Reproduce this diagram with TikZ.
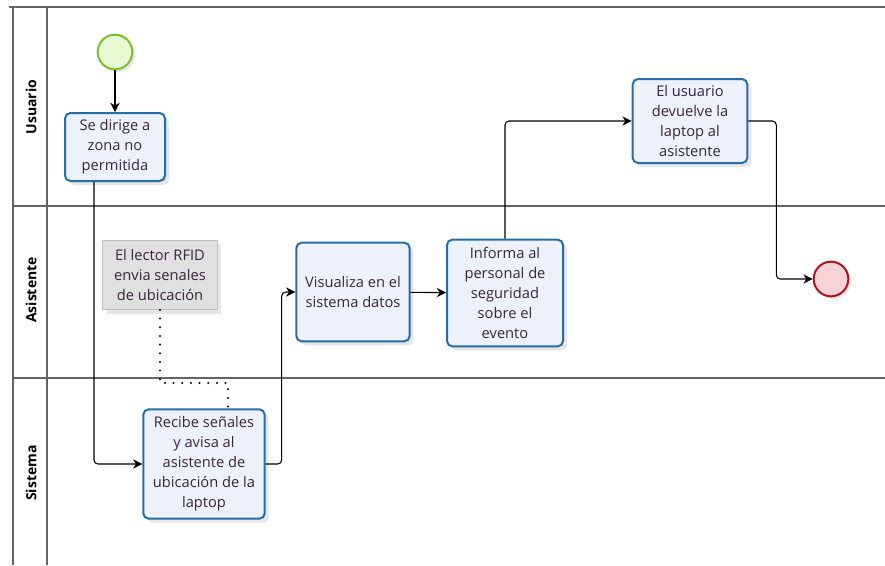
\documentclass[tikz,border=0pt]{standalone}
\usepackage{fontspec}
\setmainfont{Open Sans}
\usetikzlibrary{arrows.meta}
\usetikzlibrary{calc,shadows}

\definecolor{tareaborde}{RGB}{38,108,165}
\definecolor{tareafondo}{RGB}{236,241,252}
\definecolor{texto}{RGB}{55,38,60}
\definecolor{carril}{RGB}{100,100,100}
\definecolor{inicioborde}{RGB}{125,190,45}
\definecolor{iniciofondo}{RGB}{232,250,212}
\definecolor{finborde}{RGB}{175,20,30}
\definecolor{finfondo}{RGB}{247,210,215}

\begin{document}
\begin{tikzpicture}[x=0.75pt,y=-0.75pt,
  tarea/.style={draw=tareaborde, line width=1.5pt, rounded corners=4pt,
    fill=tareafondo, text=texto, align=center,
    font=\fontsize{11}{15}\selectfont,
    drop shadow={shadow xshift=3pt, shadow yshift=-3pt, opacity=0.2}},
  nota/.style={draw=black!25, fill=black!12, text=texto, align=center,
    font=\fontsize{11}{15}\selectfont,
    drop shadow={shadow xshift=3pt, shadow yshift=-3pt, opacity=0.2},
    minimum width=86pt, minimum height=52pt},
  evento/.style={circle, line width=1.5pt, minimum size=26pt,
    drop shadow={shadow xshift=2pt, shadow yshift=-2pt, opacity=0.2}},
  flujo/.style={draw=black, line width=0.8pt, rounded corners=3pt,
    -{Stealth[length=7pt,width=7pt]}},
  asoc/.style={draw=black, line width=1.7pt, line cap=round,
    dash pattern=on 0pt off 6.5pt},
  carrilnom/.style={rotate=90, font=\bfseries\fontsize{10.5}{12}\selectfont}]

\useasboundingbox (0,0) rectangle (885,565);

% carriles
\draw[carril, line width=1pt] (9,7) -- (885,7);
\draw[carril, line width=1.2pt] (13,7) -- (13,565);
\draw[carril, line width=0.8pt] (47,7) -- (47,565);
\draw[carril, line width=0.9pt] (13,206) -- (885,206);
\draw[carril, line width=0.9pt] (13,378) -- (885,378);

\node[carrilnom] (usuario) at (31,107) {Usuario};
\node[carrilnom] (asistente) at (31,290) {Asistente};
\node[carrilnom] (sistema) at (31,473) {Sistema};

% nodos
\node[evento, draw=inicioborde, fill=iniciofondo] (inicio) at (115,52) {};
\node[tarea, minimum width=75pt, minimum height=51pt] (dirige) at (115,147)
  {Se dirige a\\zona no\\permitida};
\node[nota] (lector) at (160,275) {El lector RFID\\envia senales\\de ubicación};
\node[tarea, minimum width=91pt, minimum height=82pt] (recibe) at (204,464)
  {Recibe señales\\y avisa al\\asistente de\\ubicación de la\\laptop};
\node[tarea, minimum width=85pt, minimum height=74pt] (visualiza) at (353,292)
  {Visualiza en el\\sistema datos};
\node[tarea, minimum width=87pt, minimum height=80pt] (informa) at (505,293)
  {Informa al\\personal de\\seguridad\\sobre el\\evento};
\node[tarea, minimum width=86pt, minimum height=63pt] (devuelve) at (690,121)
  {El usuario\\devuelve la\\laptop al\\asistente};
\node[evento, draw=finborde, fill=finfondo] (fin) at (831,279) {};

% conectores
\coordinate (asocA) at (160,383);
\coordinate (asocB) at (228,383);
\draw[asoc] (lector.south) -- (asocA) -- (asocB) -- (asocB |- recibe.north);

\draw[flujo] (inicio) -- (dirige);
\draw[flujo] ($(dirige.south)+(-21,0)$) |- (recibe.west);
\draw[flujo] (recibe.east) -- ++(16,0) |- (visualiza.west);
\draw[flujo] (visualiza) -- (informa);
\draw[flujo] (informa.north) |- (devuelve.west);
\draw[flujo] (devuelve.east) -- ++(28,0) |- (fin.west);

\end{tikzpicture}
\end{document}
